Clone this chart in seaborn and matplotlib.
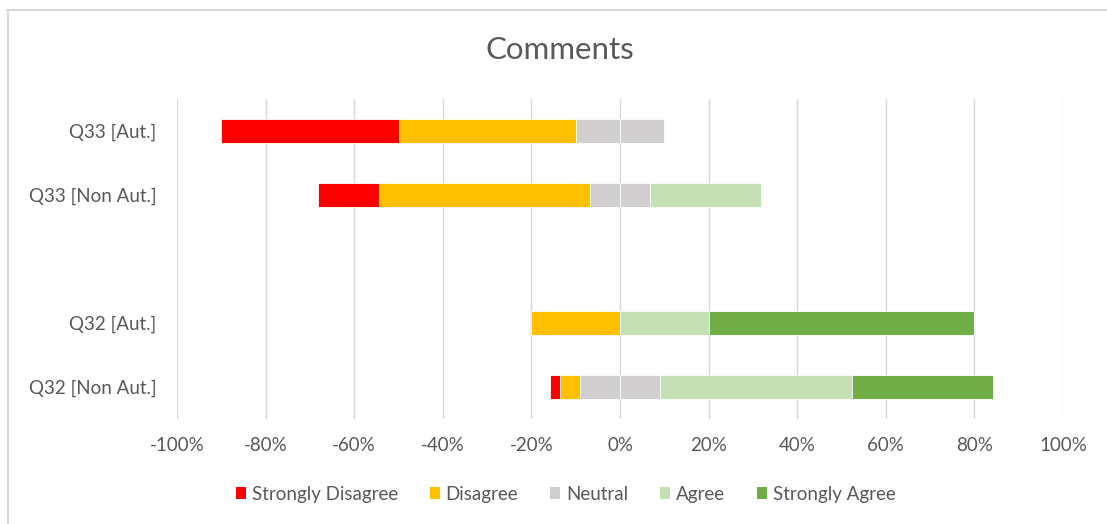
import matplotlib
matplotlib.use("Agg")
import matplotlib.pyplot as plt
from matplotlib.patches import Patch
from matplotlib.lines import Line2D
import seaborn as sns
import pandas as pd
import numpy as np

# Survey responses (percent of respondents)
questions = ["Q33 [Aut.]", "Q33 [Non Aut.]", "Q32 [Aut.]", "Q32 [Non Aut.]"]
strongly_disagree = [40.0, 13.6, 0.0, 2.3]
disagree = [40.0, 47.7, 20.0, 4.5]
neutral = [20.0, 13.6, 0.0, 18.2]
agree = [0.0, 25.0, 20.0, 43.2]
strongly_agree = [0.0, 0.0, 60.0, 31.8]

levels = ["Strongly Disagree", "Disagree", "Neutral", "Agree", "Strongly Agree"]
colors = ["#FF0000", "#FFC000", "#D0CECE", "#C5E0B4", "#70AD47"]
xticks = [-100, -80, -60, -40, -20, 0, 20, 40, 60, 80, 100]

# Row order, with a blank slot separating the two questions
order = ["Q33 [Aut.]", "Q33 [Non Aut.]", "", "Q32 [Aut.]", "Q32 [Non Aut.]"]

sd = np.array(strongly_disagree)
d = np.array(disagree)
n = np.array(neutral)
a = np.array(agree)
sa = np.array(strongly_agree)

# Cumulative extents of a diverging stack centred on the middle of Neutral
df = pd.DataFrame({
    "question": questions,
    "neg_sd": -(n / 2 + d + sd),
    "neg_d": -(n / 2 + d),
    "neg_n": -(n / 2),
    "pos_sa": n / 2 + a + sa,
    "pos_a": n / 2 + a,
    "pos_n": n / 2,
})

sns.set_theme(style="white")
plt.rcParams["font.family"] = ["Lato", "DejaVu Sans"]
text_color = "#595959"

fig = plt.figure(figsize=(11.07, 5.24), dpi=100)
ax = fig.add_axes([177 / 1107, 105 / 524, 886 / 1107, 320 / 524])

# Longest segments first so shorter ones sit on top of them
layers = [
    ("neg_sd", colors[0]), ("neg_d", colors[1]), ("neg_n", colors[2]),
    ("pos_sa", colors[4]), ("pos_a", colors[3]), ("pos_n", colors[2]),
]
for col, colr in layers:
    sns.barplot(data=df, x=col, y="question", order=order, orient="h",
                color=colr, saturation=1, width=0.39, errorbar=None,
                edgecolor="white", linewidth=0.6, ax=ax)

ax.set_xlim(-100, 100)
ax.set_ylim(4.5, -0.5)
ax.set_xticks(xticks)
ax.set_xticklabels([f"{v}%" for v in xticks])
ax.set_xlabel("")
ax.set_ylabel("")
ax.set_axisbelow(True)
ax.grid(axis="x", color="#D9D9D9", linewidth=1.0)
ax.grid(axis="y", visible=False)
for s in ax.spines.values():
    s.set_visible(False)
ax.tick_params(axis="both", length=0, colors=text_color, labelsize=13.5)
ax.tick_params(axis="x", pad=13)
ax.tick_params(axis="y", pad=15)

fig.text(0.506, 0.905, "Comments", ha="center", va="center",
         fontsize=22.5, color=text_color)

handles = [Patch(facecolor=c, edgecolor="none", label=l) for l, c in zip(levels, colors)]
leg = fig.legend(handles=handles, loc="center", bbox_to_anchor=(0.511, 0.057),
                 ncol=5, frameon=False, fontsize=13.5, handlelength=0.55,
                 handleheight=0.55, handletextpad=0.3, columnspacing=1.7)
for t in leg.get_texts():
    t.set_color(text_color)

# Chart frame edges
fig.add_artist(Line2D([7 / 1107, 1], [1 - 10 / 524, 1 - 10 / 524],
                      transform=fig.transFigure, color="#D9D9D9", linewidth=1.5))
fig.add_artist(Line2D([8 / 1107, 8 / 1107], [0, 1 - 10 / 524],
                      transform=fig.transFigure, color="#D9D9D9", linewidth=1.5))

fig.savefig("out.png", dpi=100)
